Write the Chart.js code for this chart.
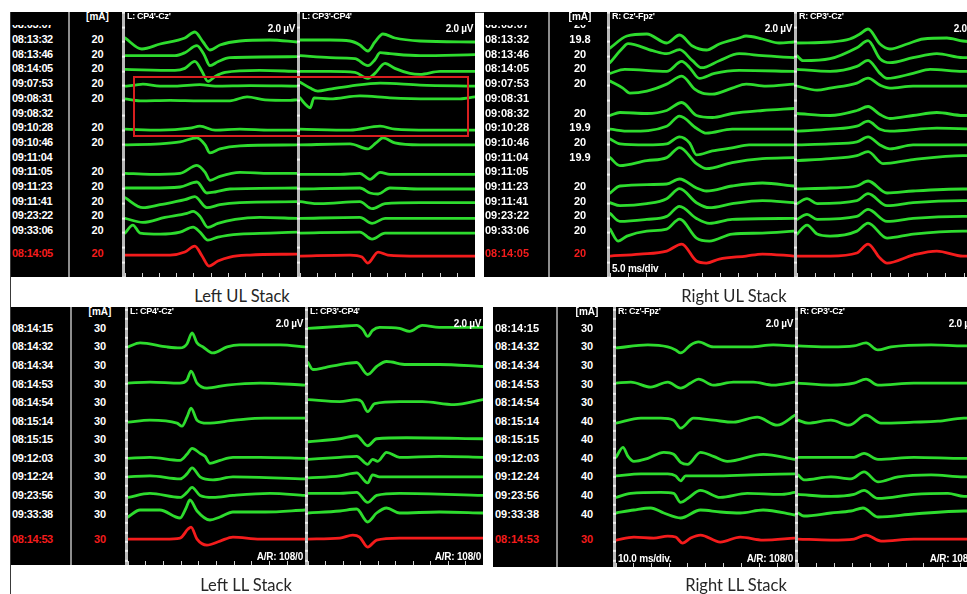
<!DOCTYPE html>
<html>
<head>
<meta charset="utf-8">
<script src="https://cdn.jsdelivr.net/npm/chart.js@4.4.1/dist/chart.umd.min.js"></script>
<style>
  html, body { margin: 0; padding: 0; }
  body { width: 967px; height: 594px; overflow: hidden; background: #fff; }
  #page { position: relative; width: 967px; height: 594px; overflow: hidden; font-family: "Liberation Sans", Arial, sans-serif; }
</style>
</head>
<body>
<div id="page"></div>
<script>
// row labels (acquisition time) and stimulation current [mA]
const ulTimes = ['08:03:07', '08:13:32', '08:13:46', '08:14:05', '09:07:53', '09:08:31', '09:08:32', '09:10:28', '09:10:46', '09:11:04', '09:11:05', '09:11:23', '09:11:41', '09:23:22', '09:33:06', '08:14:05'];
const ulLeftMa = ['', '20', '20', '20', '20', '20', '', '20', '20', '', '20', '20', '20', '20', '20', '20'];
const ulRightMa = ['20', '19.8', '20', '20', '20', '', '20', '19.9', '20', '19.9', '', '20', '20', '20', '20', '20'];
const llTimes = ['08:14:15', '08:14:32', '08:14:34', '08:14:53', '08:14:54', '08:15:14', '08:15:15', '09:12:03', '09:12:24', '09:23:56', '09:33:38', '08:14:53'];
const llLeftMa = ['30', '30', '30', '30', '30', '30', '30', '30', '30', '30', '30', '30'];
const llRightMa = ['30', '30', '30', '30', '30', '40', '40', '40', '40', '40', '40', '30'];

const leftChannels = ["L: CP4'-Cz'", "L: CP3'-CP4'"];
const rightChannels = ["R: Cz'-Fpz'", "R: CP3'-Cz'"];

// traces: [row, [[ms, uV], ...]]  (last row = reference, drawn red)
const ulLeftCh1 = [
  [1, [[0, .4], [4.9, -.7], [10.2, -.2], [17.4, .4], [20.3, 1.0], [22.7, 0], [24.7, -.8], [27.6, -.3], [33.4, .1], [42.2, .2], [50, 0]]],
  [2, [[0, .1], [14.5, .1], [17.4, .4], [20.9, 1.1], [23, .2], [24.7, -.9], [27, -.5], [30.5, -.1], [50, 0]]],
  [3, [[0, .2], [14.5, .1], [17.4, .3], [20.3, 1.0], [22.4, 0], [24.1, -1.0], [26.2, -.5], [29.1, -.1], [39.2, .1], [50, 0]]],
  [4, [[0, 0], [3, .1], [5.2, .2], [10.2, 0], [14.5, 0], [21.8, .15], [26.2, 0], [36.3, .05], [50, 0]]],
  [5, [[0, .2], [4.4, 0], [13.1, .05], [21.8, 0], [30.5, 0], [35.5, .4], [40.7, .1], [48, .05], [50, .1]]],
  [7, [[0, .1], [10.2, 0], [18.9, .2], [21.8, .4], [26.2, 0], [33.4, .1], [42.2, 0], [50, 0]]],
  [8, [[0, 0], [10.2, .1], [16, .3], [20.9, .7], [23.3, 0], [24.7, -.8], [27.6, -.4], [33.4, -.1], [50, 0]]],
  [10, [[0, .1], [7.3, 0], [16, .1], [20.9, .9], [23.3, .2], [24.7, -.6], [27.6, -.2], [33.4, .2], [42.2, .1], [50, .1]]],
  [11, [[0, .1], [7.3, .1], [16, .2], [20.9, .7], [23.8, -.4], [26.2, -.3], [30.5, 0], [50, .1]]],
  [12, [[0, .6], [5.2, -.4], [10.2, -.1], [17.4, .4], [20.3, .7], [23.8, -.4], [27.6, -.1], [33.4, .1], [50, .2]]],
  [13, [[0, 0], [5.2, -.4], [11.6, .1], [18, .5], [19.8, .7], [21.8, .2], [24.1, -.9], [27, -.5], [32, -.1], [39.2, .1], [50, 0]]],
  [14, [[0, 0], [2.3, .8], [4.4, 0], [10.2, -.1], [16, .1], [19.8, .6], [21.8, .1], [24.1, -.7], [27, -.4], [33.4, -.1], [42.2, 0], [50, .1]]],
  [15, [[0, .1], [13.1, .1], [17.4, .4], [20.3, 1.0], [22.4, 0], [24.4, -1.0], [27, -.5], [30.5, -.1], [36.3, .1], [50, .2]]]
];
const ulLeftCh2 = [
  [1, [[0, .2], [8.6, .2], [14.3, .1], [17.1, -.3], [19.4, -.9], [21.4, 0], [23.7, .8], [27.1, .4], [34.3, .1], [50, 0]]],
  [2, [[0, .1], [8.6, -.1], [15.7, -.2], [19.4, -.9], [21.4, -.3], [22.9, .4], [25.7, .3], [34.3, .1], [50, .2]]],
  [3, [[0, 0], [8.6, 0], [15.7, -.1], [19.4, -.7], [21.4, -.2], [24.3, .8], [27.1, .3], [31.4, -.2], [34.3, -.3], [40, 0], [50, 0]]],
  [4, [[0, .4], [2.9, -.2], [5.1, -.5], [8.6, -.3], [14.3, 0], [22.9, .3], [34.3, .1], [50, 0]]],
  [5, [[0, .3], [1.4, -.3], [2.9, -.7], [4, .3], [8.6, .2], [17.1, .5], [25.7, .3], [37.1, .2], [45.7, .2], [50, .4]]],
  [7, [[0, .1], [14.3, 0], [22.9, .4], [27.1, .1], [37.1, 0], [50, 0]]],
  [8, [[0, 0], [14.3, .1], [19.4, -.4], [21.7, .2], [23.7, .7], [27.1, .2], [34.3, 0], [50, 0]]],
  [10, [[0, 0], [11.4, 0], [17.1, .1], [20, -.5], [22.9, .2], [25.7, 0], [34.3, 0], [50, 0]]],
  [11, [[0, 0], [17.1, .1], [20, -.4], [22.3, -.5], [25.7, .1], [34.3, 0], [50, 0]]],
  [12, [[0, .2], [5.7, 0], [17.1, .2], [20.6, -.5], [24.3, 0], [34.3, .1], [50, .1]]],
  [13, [[0, 0], [17.1, .1], [20.6, -.5], [24.3, 0], [50, 0]]],
  [14, [[0, 0], [17.1, .1], [20.6, -.6], [24.3, 0], [50, 0]]],
  [15, [[0, 0], [14.3, .1], [17.7, -.1], [19.4, -.7], [22.3, .4], [25.1, .1], [34.3, 0], [50, 0]]]
];
const ulRightCh1 = [
  [1, [[0, -.6], [4.6, .6], [10, .8], [15.4, -.1], [18.9, .7], [22.4, -.4], [26.2, -.8], [29.7, -.2], [35.1, .4], [37, .6], [41.4, .3], [46, -.1], [50, 0]]],
  [2, [[0, -.6], [3.5, .9], [4.9, 1.3], [11.6, .6], [15.4, .3], [18.9, .7], [22.4, -.4], [24.9, -1.1], [29.7, -.4], [35.1, .3], [41.4, .1], [50, -.1]]],
  [3, [[0, -.2], [4, .2], [15.4, 0], [19.5, 1.0], [21.6, .4], [24.3, -.7], [28.4, -.2], [35.1, .1], [50, 0]]],
  [4, [[0, .5], [3.5, -.2], [5.4, -.7], [10, -.5], [15.4, .2], [19.5, 1.0], [23, -.3], [25.1, -.7], [27.8, -.8], [33.2, -.2], [37, .2], [42.4, 0], [50, .2]]],
  [6, [[0, 0], [2.7, .3], [10, .2], [15.4, .5], [19.5, 1.3], [23.5, 0], [27.8, -.2], [33.2, .2], [41.4, .5], [50, .7]]],
  [7, [[0, .1], [5.4, -.1], [15.4, .4], [18.9, 1.4], [23.5, .2], [26.2, -.3], [33.2, .1], [50, .1]]],
  [8, [[0, .6], [2.7, .1], [10, 0], [15.4, .1], [18.9, .8], [21.6, .2], [23.5, -1.0], [27.8, -.6], [33.2, -.3], [37.8, 0], [50, 0]]],
  [9, [[0, .2], [2.7, -.6], [10, -.1], [15.4, .2], [18.9, 1.2], [23.5, -.4], [26.2, -.9], [33.2, -.3], [41.4, .1], [50, .2]]],
  [11, [[0, -.4], [2.7, .3], [15.4, .5], [18.9, 1.0], [23.5, .1], [26.2, -.2], [33.2, .3], [41.4, .6], [50, .3]]],
  [12, [[0, .1], [2.7, -.2], [10, 0], [15.4, .5], [18.9, 1.5], [23.5, .1], [27, -.4], [33.2, 0], [41.4, .3], [50, .1]]],
  [13, [[0, .5], [2.7, -.3], [10, -.1], [15.4, .2], [18.9, 1.2], [23.5, 0], [27, -.5], [33.2, -.1], [50, 0]]],
  [14, [[0, .4], [2.2, -.8], [4.6, -.3], [10, .2], [15.4, .4], [18.9, 1.4], [23.5, -.5], [27, -.8], [33.2, -.1], [41.4, 0], [50, .2]]],
  [15, [[0, 0], [8.1, .2], [15.4, .5], [19.5, 1.2], [23.5, -.5], [26.2, -.7], [29.7, -.3], [37, 0], [41.4, .2], [50, 0]]]
];
const ulRightCh2 = [
  [1, [[0, -.1], [8.9, 0], [14.2, .3], [16.9, .8], [19.1, 1.3], [22.3, -.2], [25, -.7], [29.6, -.2], [33.9, .3], [40.3, .4], [44.6, .1], [50, 0]]],
  [2, [[0, .1], [1.6, -.4], [8.9, -.2], [16.1, .9], [19.1, 1.6], [22.3, -.2], [25, -.6], [31.2, -.1], [37.6, .3], [44.6, -.1], [50, 0]]],
  [3, [[0, .2], [8.9, 0], [16.1, .5], [19.1, 1.1], [22.3, -.2], [24.2, -.7], [31.2, -.2], [35.8, .2], [44.6, 0], [50, 0]]],
  [4, [[0, 0], [5.4, -.4], [8.9, -.2], [16.1, .3], [19.1, .8], [22.3, .1], [25, -.2], [31.2, 0], [50, 0]]],
  [6, [[0, .2], [8.9, 0], [16.1, .5], [19.1, .9], [22.3, .1], [25, -.3], [31.2, 0], [37.6, .3], [44.6, 0], [50, 0]]],
  [7, [[0, -.1], [8.9, .1], [16.1, .4], [19.1, .9], [22.3, .1], [25, -.1], [37.6, .2], [50, .1]]],
  [8, [[0, 0], [8.9, .1], [16.1, .3], [19.1, .8], [22.3, 0], [25, -.4], [31.2, 0], [50, 0]]],
  [9, [[0, -.1], [8.9, .1], [16.1, .4], [19.1, .8], [23.1, -.4], [31.2, 0], [44.6, .4], [50, .4]]],
  [11, [[0, 0], [8.9, .1], [16.1, .3], [19.1, .8], [24.2, -.4], [31.2, -.2], [44.6, 0], [50, 0]]],
  [12, [[0, 0], [2.7, .5], [5.4, 0], [16.1, .3], [19.1, 1.0], [24.2, -.2], [31.2, .1], [44.6, .3], [50, .3]]],
  [13, [[0, -.1], [2.7, .4], [5.4, -.1], [16.1, .2], [19.1, .9], [24.2, -.3], [31.2, 0], [44.6, .2], [50, .2]]],
  [14, [[0, -.1], [2.7, .8], [5.4, -.1], [8.9, -.3], [16.1, .2], [19.1, 1.0], [24.2, -.5], [31.2, -.1], [44.6, .2], [50, .2]]],
  [15, [[0, 0], [8.9, 0], [16.1, .3], [19.1, 1.2], [22.3, -.2], [24.2, -.7], [31.2, .1], [37.6, .5], [44.6, 0], [50, 0]]]
];
const llLeftCh1 = [
  [1, [[0, 0], [6.8, .4], [22, 0], [29.4, -.1], [33.3, .3], [36.2, 1.4], [39, .4], [42.4, 0], [48, -.6], [56, 0], [63, .2], [86, .2], [100, 0]]],
  [3, [[0, .1], [12.4, .2], [29.4, .1], [33.3, .4], [35.6, 1.3], [39, .1], [44.6, -.4], [56, -.1], [74.6, .1], [100, -.1]]],
  [5, [[0, -.1], [12.4, .1], [27.7, -.2], [30.5, -.5], [33.3, .4], [35.6, 1.3], [39, .1], [44.6, -.2], [60.5, .1], [77.4, .3], [100, .3]]],
  [7, [[0, 0], [12.4, .1], [29.4, -.2], [33.3, .4], [36.2, 1.0], [40.7, .5], [43.5, .2], [46.3, -.5], [52, -.2], [59.3, .1], [74.6, .1], [100, 0]]],
  [8, [[0, 0], [12.4, .1], [29.4, -.2], [33.3, .3], [36.2, .9], [40.7, 0], [48, -.3], [59.3, 0], [100, -.2]]],
  [9, [[0, -.2], [12.4, .2], [29.4, -.2], [33.3, .3], [36.2, .8], [40.7, 0], [48, -.2], [59.3, 0], [80.2, .2], [100, 0]]],
  [10, [[0, -.3], [6.8, .4], [18, .4], [29.4, -.4], [32.8, .6], [35, 1.4], [39, .3], [46.3, -.6], [52, -.3], [59.3, .2], [77.4, .2], [100, .4]]],
  [11, [[0, 0], [20.9, 0], [29.4, .1], [33.9, 1.0], [35.6, 1.2], [39, 0], [44.6, -.6], [52, -.2], [59.3, .2], [74.6, 0], [100, 0]]]
];
const llLeftCh2 = [
  [0, [[0, 0], [18.2, .2], [27.8, .3], [31.3, -.1], [34.1, -.8], [36.9, -.2], [40.9, .1], [52.3, 0], [58, -.3], [65.3, .3], [75, .1], [100, .1]]],
  [2, [[0, .3], [2.8, -.4], [9.7, -.2], [18.2, .1], [27.8, .3], [34.1, -.9], [39.2, -.1], [44.9, .4], [56.3, .1], [75, .1], [100, -.1]]],
  [4, [[0, .3], [18.2, .1], [27.8, .3], [30.7, .1], [34.1, -.9], [38.1, -.1], [52.3, .1], [65.3, .1], [83.5, -.2], [100, .3]]],
  [6, [[0, -.2], [18.2, .1], [27.8, .4], [34.1, -.6], [39.2, .1], [56.3, .2], [100, .1]]],
  [7, [[0, -.1], [18.2, .1], [27.8, .2], [34.1, -.6], [36.9, -.1], [39.8, -.3], [44.9, .6], [52.3, .1], [75, .2], [100, .1]]],
  [8, [[0, -.1], [18.2, .1], [27.8, .4], [34.1, -.6], [36.9, .2], [40.9, 0], [100, 0]]],
  [9, [[0, .2], [18.2, .2], [27.8, .3], [34.1, -.7], [39.2, 0], [52.3, .2], [100, 0]]],
  [10, [[0, .1], [18.2, .3], [27.8, .5], [34.1, -.8], [39.2, .1], [44.9, .6], [52.3, .1], [75, .2], [100, .1]]],
  [11, [[0, 0], [18.2, .1], [25.6, .4], [29.5, .2], [34.1, -.8], [39.2, -.1], [52.3, .1], [75, .1], [100, .1]]]
];
const llRightCh1 = [
  [1, [[0, -.1], [17.8, .2], [28.9, 0], [33.3, -.3], [36.1, -.6], [41.7, .2], [46.1, .5], [54.4, 0], [75, 0], [87.8, .2], [100, .1]]],
  [3, [[0, .1], [8.3, .2], [19.4, -.3], [28.9, .2], [36.1, -.4], [41.7, .1], [46.1, .5], [54.4, -.1], [65.6, .2], [76.7, .2], [87.8, -.1], [100, .2]]],
  [5, [[0, -.2], [13.9, .3], [25, .3], [32.2, .1], [36.1, -.7], [43.3, .3], [54.4, .1], [65.6, -.1], [78.9, .4], [90, -.4], [100, .6]]],
  [7, [[0, .1], [3.9, 1.1], [6.7, .2], [10, -.3], [17.8, 0], [26.7, .6], [32.2, .4], [36.1, -.4], [40, -.6], [47.2, .6], [54.4, .2], [62.2, -.3], [82.2, .4], [100, -.1]]],
  [8, [[0, .1], [13.9, .3], [28.9, .3], [33.3, .1], [36.1, -.4], [38.9, .1], [54.4, .1], [75, .2], [100, .3]]],
  [9, [[0, -.2], [8.3, .2], [25, .3], [32.2, .2], [36.1, -.7], [40, -.3], [47.2, .5], [58.3, -.2], [73.3, .2], [91.7, .1], [100, .3]]],
  [10, [[0, .1], [10, .4], [19.4, .6], [26.7, .1], [36.1, -.4], [47.2, .4], [58.3, .2], [69.4, .1], [82.2, .4], [100, -.1]]],
  [11, [[0, -.1], [10, .2], [21.1, .1], [28.9, .3], [33.3, .2], [37.2, -.4], [41.7, .1], [47.2, .4], [58.3, -.3], [69.4, .2], [82.2, -.1], [100, .1]]]
];
const llRightCh2 = [
  [1, [[0, .1], [18.3, 0], [31.1, .1], [37.8, .4], [44.4, -.3], [51.7, 0], [73.9, .2], [92.2, .1], [100, .1]]],
  [3, [[0, .1], [18.3, -.1], [31.1, .1], [37.8, .5], [44.4, -.1], [64.4, .1], [92.2, .1], [100, .1]]],
  [5, [[0, .1], [5.6, -.2], [18.3, .1], [28.3, -.4], [37.8, .6], [46.1, -.2], [64.4, -.1], [77.8, 0], [92.2, .3], [100, .3]]],
  [7, [[0, .1], [31.1, .1], [36.7, .5], [44.4, -.1], [64.4, .1], [92.2, 0], [100, 0]]],
  [8, [[0, .2], [3.3, -.3], [18.3, 0], [29.4, -.2], [36.7, .5], [44.4, -.5], [55.6, 0], [73.9, .2], [92.2, 0], [100, 0]]],
  [9, [[0, .1], [18.3, -.1], [31.1, .1], [36.7, .5], [44.4, -.3], [64.4, .1], [83.3, .2], [92.2, -.1], [100, 0]]],
  [10, [[0, .1], [3.3, -.2], [18.3, .1], [29.4, .3], [36.1, .6], [44.4, -.3], [64.4, 0], [92.2, .3], [100, .3]]],
  [11, [[0, 0], [18.3, -.1], [31.1, 0], [37.8, .4], [46.1, -.2], [64.4, 0], [100, 0]]]
];

const GREEN = '#2edc2e';
const RED = '#f41c1c';
const GAIN = 10;   // screen px per uV
const TICK = 4;    // time-axis tick length
const TIME_FONT = 'bold 11px "Liberation Sans", Arial, sans-serif';
const SMALL_FONT = 'bold 9px "Liberation Sans", Arial, sans-serif';
const MID_FONT = 'bold 10px "Liberation Sans", Arial, sans-serif';

const page = document.getElementById('page');

const box = (x0, y0, x1, y1, css, parent) => {
    const d = document.createElement('div');
    d.style.cssText = `position:absolute;left:${x0}px;top:${y0}px;width:${x1 - x0}px;height:${y1 - y0}px;${css || ''}`;
    (parent || page).appendChild(d);
    return d;
};

const text = (s, x, cy, align, font, color, extra, parent) => {
    const w = 160;
    const left = align === 'left' ? x : align === 'right' ? x - w : x - w / 2;
    const d = document.createElement('div');
    d.style.cssText = `position:absolute;left:${left}px;top:${cy - 8}px;width:${w}px;height:16px;line-height:16px;` +
        `text-align:${align};white-space:nowrap;font:${font};color:${color};${extra || ''}`;
    d.textContent = s;
    (parent || page).appendChild(d);
};

const draw_channel = (q, x0, x1, traces) => {
    const [, top, , bottom] = q.box;
    const cv = document.createElement('canvas');
    cv.width = x1 - x0;
    cv.height = bottom - top;
    cv.style.cssText = `position:absolute;left:${x0}px;top:${top}px;`;
    page.appendChild(cv);

    const last = q.times.length - 1;
    const ymin = -(q.firstRow - top) / q.rowStep;
    const ymax = ymin + (bottom - top - TICK) / q.rowStep;

    new Chart(cv.getContext('2d'), {
        type: 'line',
        data: {
            datasets: traces.map(([row, pts]) => ({
                data: pts.map(([t, v]) => ({ x: t, y: (row === last ? row + q.refGap : row) - v * GAIN / q.rowStep })),
                borderColor: row === last ? RED : GREEN,
                borderWidth: 2.8,
                pointRadius: 0,
                cubicInterpolationMode: 'monotone',
                borderCapStyle: 'round',
                borderJoinStyle: 'round',
            })),
        },
        options: {
            responsive: false,
            animation: false,
            devicePixelRatio: 1,
            layout: { padding: 0 },
            plugins: { legend: { display: false }, tooltip: { enabled: false } },
            scales: {
                x: {
                    type: 'linear',
                    min: 0,
                    max: q.span,
                    border: { display: false },
                    ticks: { display: false, stepSize: q.span / 10 },
                    grid: { drawOnChartArea: false, drawTicks: true, tickLength: TICK, color: '#d0d0d0' },
                },
                y: { display: false, reverse: true, min: ymin, max: ymax },
            },
        },
    });
};

const draw_stack = q => {
    const [bx0, by0, bx1, by1] = q.box;
    box(bx0, by0, bx1, by1, 'background:#000;');
    const last = q.times.length - 1;
    const rowY = i => q.firstRow + (i === last ? i + q.refGap : i) * q.rowStep;

    // label columns
    const tcol = box(q.time[0], q.listTop, q.time[1], by1, 'overflow:hidden;');
    const mcol = box(q.ma[1], q.listTop, q.ch1[0], by1, 'overflow:hidden;');
    q.times.forEach((s, i) => {
        const c = i === last ? RED : '#fff';
        const y = rowY(i) + q.labelShift - q.listTop;
        text(s, q.timePad, y, 'left', TIME_FONT, c, `letter-spacing:${q.spacing}px;`, tcol);
        text(q.currents[i], (q.ch1[0] - q.ma[1]) / 2, y, 'center', TIME_FONT, c, '', mcol);
    });
    text('[mA]', (q.ma[1] + q.ch1[0]) / 2, by0 + 7, 'center', MID_FONT, '#fff');

    // separators
    box(q.time[1], by0, q.ma[1], by1, 'background:#8e8e8e;');
    const notch = q.rowStep / q.notches;
    const off = (q.firstRow - by0) % notch - 1;
    const sepCss = `background:repeating-linear-gradient(to bottom,#efefef 0px,#efefef 2px,#b9b9b9 2px,#b9b9b9 ${notch}px);background-position:0 ${off}px;`;
    box(q.ch1[0] - 3, by0, q.ch1[0], by1, sepCss);
    box(q.ch1[1], by0, q.ch2[0], by1, sepCss);

    draw_channel(q, q.ch1[0], q.ch1[1], q.traces[0]);
    draw_channel(q, q.ch2[0], q.ch2[1], q.traces[1]);

    [q.ch1, q.ch2].forEach((ch, k) => {
        text(q.channels[k], ch[0] + 2, by0 + 7, 'left', SMALL_FONT, '#fff', 'letter-spacing:-0.3px;');
        text('2.0 \u00b5V', ch[1] - 2, by0 + 19, 'right', MID_FONT, '#fff', 'letter-spacing:-0.3px;');
        if (q.ar) text('A/R: 108/0', ch[1] - 2, by1 - 6, 'right', MID_FONT, '#fff', 'letter-spacing:-0.2px;');
    });
    if (q.sweep) text(q.sweep, q.ch1[0] + 2, by1 - 6, 'left', MID_FONT, '#fff', 'letter-spacing:-0.2px;');

    text(q.caption, q.captionX, q.captionY, 'center', '16.5px Lato, "Open Sans", sans-serif', '#262626');
};

// frame lines
box(10, 12, 967, 13, 'background:#3a3a3a;');
box(10, 12, 11, 594, 'background:#3a3a3a;');

draw_stack({
    box: [11, 12, 475, 277], time: [11, 68], ma: [68, 70], ch1: [125, 297], ch2: [300, 475],
    times: ulTimes, currents: ulLeftMa, channels: leftChannels, traces: [ulLeftCh1, ulLeftCh2],
    firstRow: 27.3, rowStep: 14.7, refGap: 0.56, listTop: 25, labelShift: -1, timePad: 1, spacing: -0.4,
    notches: 1, span: 50, caption: 'Left UL Stack', captionX: 242, captionY: 294,
});
draw_stack({
    box: [484, 12, 967, 277], time: [484, 548], ma: [548, 550], ch1: [610, 794], ch2: [797, 983],
    times: ulTimes, currents: ulRightMa, channels: rightChannels, traces: [ulRightCh1, ulRightCh2],
    firstRow: 27.3, rowStep: 14.7, refGap: 0.56, listTop: 25, labelShift: -1, timePad: 1, spacing: 0,
    notches: 1, span: 50, sweep: '5.0 ms/div', caption: 'Right UL Stack', captionX: 734, captionY: 294,
});
draw_stack({
    box: [11, 307, 483, 565], time: [11, 70], ma: [70, 72], ch1: [128, 305], ch2: [308, 483],
    times: llTimes, currents: llLeftMa, channels: leftChannels, traces: [llLeftCh1, llLeftCh2],
    firstRow: 328.4, rowStep: 18.56, refGap: 0.35, listTop: 318, labelShift: 1.5, timePad: 1, spacing: -0.4,
    notches: 2, span: 100, ar: true, caption: 'Left LL Stack', captionX: 246, captionY: 583,
});
draw_stack({
    box: [493, 307, 967, 567], time: [493, 556], ma: [556, 558], ch1: [616, 795], ch2: [798, 978],
    times: llTimes, currents: llRightMa, channels: rightChannels, traces: [llRightCh1, llRightCh2],
    firstRow: 328.4, rowStep: 18.56, refGap: 0.35, listTop: 318, labelShift: 1.5, timePad: 2, spacing: 0,
    notches: 2, span: 100, ar: true, sweep: '10.0 ms/div.', caption: 'Right LL Stack', captionX: 736, captionY: 583,
});

// highlighted block in the left UL stack
box(133, 76, 469, 137, 'border:2px solid #d81f1f;box-sizing:border-box;');
</script>
</body>
</html>
